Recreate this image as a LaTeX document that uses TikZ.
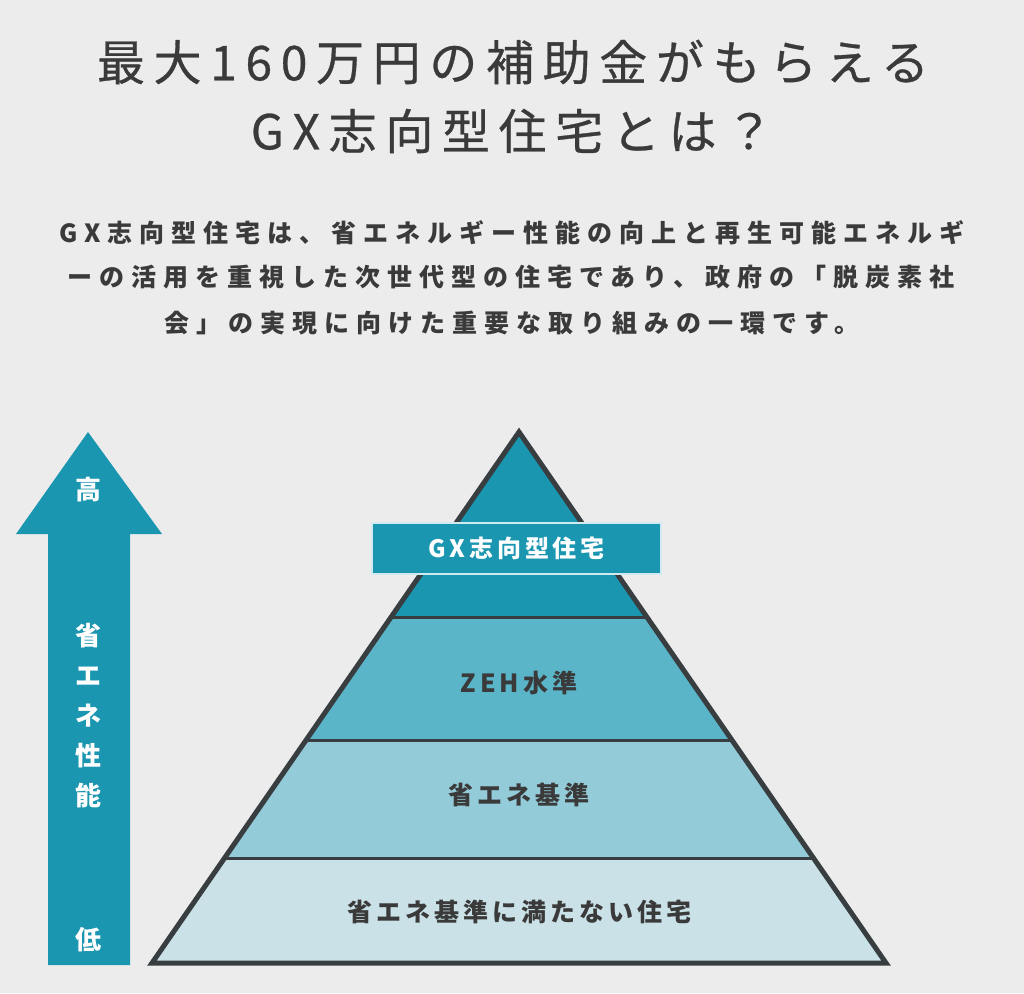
\documentclass[tikz,border=0pt]{standalone}
\usepackage{fontspec}
\usepackage{tikz}
\usetikzlibrary{calc,positioning}

\newfontfamily\titlefont{Noto Sans CJK JP}[LetterSpace=18, FakeBold=0.6]
\newfontfamily\parafont{Noto Sans CJK JP}[LetterSpace=28]
\newfontfamily\labelfont{Noto Sans CJK JP}[LetterSpace=16]

\definecolor{bgcol}{HTML}{ECECEC}
\definecolor{inkcol}{HTML}{3A3A3A}
\definecolor{edgecol}{HTML}{383D40}
\definecolor{gxteal}{HTML}{1A96B0}
\definecolor{zehblue}{HTML}{5BB5C9}
\definecolor{stdblue}{HTML}{93CBD9}
\definecolor{lowblue}{HTML}{C9E1E7}

\begin{document}
\begin{tikzpicture}[x=1pt, y=-1pt,
    headline/.style={text=inkcol, inner sep=0pt, font=\titlefont\fontsize{48}{52}\selectfont},
    bodyline/.style={text=inkcol, inner sep=0pt, font=\parafont\bfseries\fontsize{25}{30}\selectfont},
    level/.style={text=inkcol, inner sep=0pt, font=\labelfont\bfseries\fontsize{25}{30}\selectfont},
    arrowtext/.style={text=white, inner sep=0pt, align=center, font=\labelfont\bfseries\fontsize{26}{40}\selectfont},
    gxbox/.style={fill=gxteal, draw=white!80!gxteal, line width=2pt, text=white, minimum width=289pt, minimum height=51pt, inner sep=0pt, font=\labelfont\bfseries\fontsize{24}{28}\selectfont},
    outline/.style={draw=edgecol, line width=5pt, line join=miter},
    divider/.style={draw=edgecol, line width=3pt}]

    % background and page size
    \fill[bgcol] (0,0) rectangle (1024,993);
    \useasboundingbox (0,0) rectangle (1024,993);

    % heading and text
    \node[headline] (title1) at (513,62) {最大160万円の補助金がもらえる};
    \node[headline] (title2) at (512,131) {GX志向型住宅とは？};
    \node[bodyline] (para1) at (512,233) {GX志向型住宅は、省エネルギー性能の向上と再生可能エネルギ};
    \node[bodyline] (para2) at (511,277) {ーの活用を重視した次世代型の住宅であり、政府の「脱炭素社};
    \node[bodyline] (para3) at (512,323) {会」の実現に向けた重要な取り組みの一環です。};

    % performance arrow
    \fill[gxteal] (88,432) -- (162,534) -- (130,534) -- (130,965) -- (48,965) -- (48,534) -- (16,534) -- cycle;
    \node[arrowtext] (high) at (88,490) {高};
    \node[arrowtext] (axis) at (88,716) {省\\エ\\ネ\\性\\能};
    \node[arrowtext] (low) at (88,940) {低};

    % pyramid
    \coordinate (apex) at (519,432);
    \coordinate (bl) at (152,963);
    \coordinate (br) at (886,963);
    \foreach \n/\t in {a/0.3484, b/0.5819, c/0.8023} {
        \coordinate (l\n) at ($(apex)!\t!(bl)$);
        \coordinate (r\n) at ($(apex)!\t!(br)$);
    }
    \fill[gxteal] (apex) -- (ra) -- (la) -- cycle;
    \fill[zehblue] (la) -- (ra) -- (rb) -- (lb) -- cycle;
    \fill[stdblue] (lb) -- (rb) -- (rc) -- (lc) -- cycle;
    \fill[lowblue] (lc) -- (rc) -- (br) -- (bl) -- cycle;
    \draw[divider] (la) -- (ra);
    \draw[divider] (lb) -- (rb);
    \draw[divider] (lc) -- (rc);
    \draw[outline] (apex) -- (br) -- (bl) -- cycle;

    \node[gxbox] (gx) at (516.5,548.5) {GX志向型住宅};
    \node[level] (zeh) at (519,683) {ZEH水準};
    \node[level] (std) at (519,795) {省エネ基準};
    \node[level] (low) at (519,912) {省エネ基準に満たない住宅};
\end{tikzpicture}
\end{document}
